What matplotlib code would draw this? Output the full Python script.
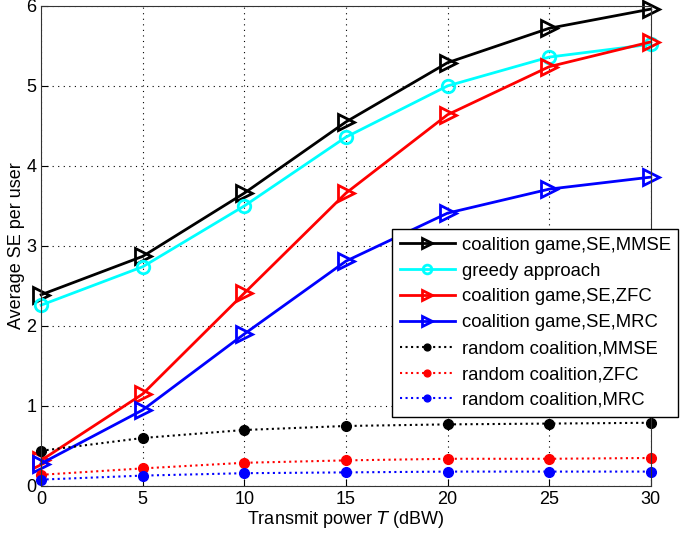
import numpy as np
import matplotlib.pyplot as plt

plt.rcParams['font.family'] = ['Liberation Sans', 'DejaVu Sans']

power = [0, 5, 10, 15, 20, 25, 30]
game_mmse = [2.39, 2.87, 3.66, 4.55, 5.29, 5.72, 5.96]
greedy = [2.26, 2.74, 3.50, 4.36, 5.00, 5.36, 5.52]
game_zfc = [0.32, 1.15, 2.41, 3.66, 4.64, 5.24, 5.55]
game_mrc = [0.28, 0.95, 1.90, 2.81, 3.41, 3.71, 3.86]
rand_mmse = [0.44, 0.60, 0.70, 0.75, 0.77, 0.78, 0.79]
rand_zfc = [0.14, 0.22, 0.29, 0.32, 0.34, 0.34, 0.35]
rand_mrc = [0.08, 0.13, 0.16, 0.17, 0.18, 0.18, 0.18]

if __name__ == '__main__':
    fig = plt.figure(figsize=(6.85, 5.35), dpi=100)
    ax = fig.add_axes([0.06, 0.0916, 0.890, 0.8974])

    kw = dict(lw=2, ms=11, mfc='none', mew=2, clip_on=False)
    ax.plot(power, game_mmse, '->', color='k', label='coalition game,SE,MMSE', **kw)
    ax.plot(power, greedy, '-o', color='cyan', lw=2, ms=9, mfc='none', mew=2,
            clip_on=False, label='greedy approach')
    ax.plot(power, game_zfc, '->', color='r', label='coalition game,SE,ZFC', **kw)
    ax.plot(power, game_mrc, '->', color='b', label='coalition game,SE,MRC', **kw)
    dkw = dict(ls=':', lw=1.5, marker='o', ms=7, clip_on=False)
    ax.plot(power, rand_mmse, color='k', label='random coalition,MMSE', **dkw)
    ax.plot(power, rand_zfc, color='r', label='random coalition,ZFC', **dkw)
    ax.plot(power, rand_mrc, color='b', label='random coalition,MRC', **dkw)

    ax.set_xlim(0, 30)
    ax.set_ylim(0, 6)
    ax.set_xticks(np.arange(0, 31, 5))
    ax.set_yticks(np.arange(0, 7, 1))
    ax.tick_params(labelsize=13, direction='in', length=5)
    ax.set_xlabel('Transmit power $T$ (dBW)', fontsize=13, labelpad=1)
    ax.set_ylabel('Average SE per user', fontsize=13, labelpad=1)
    ax.grid(True, ls=(0, (1, 4)), color='k', lw=0.8)
    for s in ax.spines.values():
        s.set_color('#333333')

    leg = ax.legend(loc='upper left', bbox_to_anchor=(392 / 685, 1 - 229 / 535),
                    bbox_transform=fig.transFigure, fontsize=13.3, fancybox=False,
                    edgecolor='k', framealpha=1, borderaxespad=0, handlelength=3.0,
                    handletextpad=0.35, markerscale=0.7,
                    labelspacing=0.48, borderpad=0.42)
    leg.get_frame().set_linewidth(1)

    fig.savefig('out.png', dpi=100)
